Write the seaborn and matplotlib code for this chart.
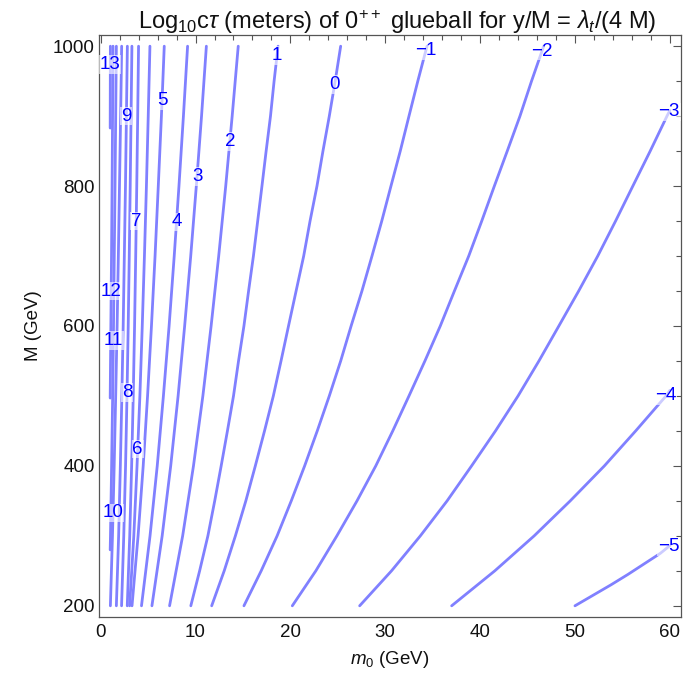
import numpy as np
import pandas as pd
import matplotlib
matplotlib.use("Agg")
import matplotlib.pyplot as plt
import seaborn as sns
from matplotlib.ticker import MultipleLocator

# ---------------- data ----------------
M_coarse = [200, 300, 400, 500, 600, 700, 800, 900, 1000]
M_fine = [200, 250, 300, 350, 400, 450, 500, 550, 600, 650, 700, 750, 800,
          850, 900, 950, 1000]

lvl_n5_m0 = [50.0, 51.9, 53.8, 55.6, 57.3, 59.0, 60.0]
lvl_n5_M = [200, 215, 230, 245, 260, 275, 286]
lvl_n4_m0 = [37.0, 41.55, 45.7, 49.5, 53.1, 56.4, 59.6, 60.0]
lvl_n4_M = [200, 250, 300, 350, 400, 450, 500, 508]
lvl_n3_m0 = [27.3, 30.66, 33.7, 36.52, 39.1, 41.62, 44.0, 46.2, 48.3, 50.39,
             52.4, 54.28, 56.1, 57.93, 59.7, 60.0]
lvl_n3_M = [200, 250, 300, 350, 400, 450, 500, 550, 600, 650, 700, 750, 800,
            850, 900, 908]
lvl_n2_m0 = [20.2, 22.68, 24.9, 27.02, 29.0, 30.79, 32.5, 34.18, 35.8, 37.29,
             38.8, 40.17, 41.5, 42.86, 44.2, 45.42, 46.7]
lvl_n1_m0 = [15.1, 16.92, 18.6, 20.09, 21.5, 22.83, 24.1, 25.3, 26.4, 27.54,
             28.6, 29.63, 30.6, 31.58, 32.5, 33.43, 34.4]
lvl_0_m0 = [11.7, 13.02, 14.2, 15.3, 16.3, 17.27, 18.2, 19.01, 19.8, 20.6,
            21.4, 22.07, 22.8, 23.43, 24.1, 24.72, 25.3]
lvl_1_m0 = [9.5, 10.43, 11.3, 12.02, 12.7, 13.36, 14.0, 14.53, 15.1, 15.59,
            16.1, 16.55, 17.0, 17.44, 17.9, 18.28, 18.7]
lvl_2_m0 = [7.26, 8.64, 9.78, 10.77, 11.64, 12.44, 13.18, 13.86, 14.5]
lvl_3_m0 = [5.4, 6.48, 7.38, 8.16, 8.85, 9.49, 10.08, 10.63, 11.14]
lvl_4_m0 = [4.3, 5.2, 5.96, 6.61, 7.21, 7.75, 8.25, 8.72, 9.16]
lvl_5_m0 = [3.3, 3.94, 4.48, 4.94, 5.35, 5.73, 6.07, 6.4, 6.7]
lvl_6_m0 = [3.05, 3.49, 3.83, 4.13, 4.38, 4.61, 4.82, 5.01, 5.19]
lvl_7_m0 = [2.8, 3.06, 3.26, 3.43, 3.57, 3.69, 3.8, 3.9, 3.99]
lvl_8_m0 = [2.2, 2.43, 2.62, 2.77, 2.9, 3.01, 3.11, 3.2, 3.29]
lvl_9_m0 = [1.65, 1.89, 2.07, 2.23, 2.37, 2.49, 2.61, 2.71, 2.81]
lvl_10_m0 = [1.02, 1.24, 1.42, 1.58, 1.73, 1.86, 1.98, 2.1, 2.21]
lvl_11_m0 = [1.0, 1.03, 1.15, 1.26, 1.35, 1.43, 1.51, 1.58, 1.65]
lvl_11_M = [280, 300, 400, 500, 600, 700, 800, 900, 1000]
lvl_12_m0 = [1.0, 1.07, 1.14, 1.2, 1.25, 1.3]
lvl_12_M = [497, 600, 700, 800, 900, 1000]
lvl_13_m0 = [1.0, 1.02]
lvl_13_M = [883, 1000]

levels = list(range(-5, 14))
contours = {
    -5: (lvl_n5_m0, lvl_n5_M), -4: (lvl_n4_m0, lvl_n4_M), -3: (lvl_n3_m0, lvl_n3_M),
    -2: (lvl_n2_m0, M_fine), -1: (lvl_n1_m0, M_fine), 0: (lvl_0_m0, M_fine),
    1: (lvl_1_m0, M_fine), 2: (lvl_2_m0, M_coarse), 3: (lvl_3_m0, M_coarse),
    4: (lvl_4_m0, M_coarse), 5: (lvl_5_m0, M_coarse), 6: (lvl_6_m0, M_coarse),
    7: (lvl_7_m0, M_coarse), 8: (lvl_8_m0, M_coarse), 9: (lvl_9_m0, M_coarse),
    10: (lvl_10_m0, M_coarse), 11: (lvl_11_m0, lvl_11_M), 12: (lvl_12_m0, lvl_12_M),
    13: (lvl_13_m0, lvl_13_M),
}

# M position of each inline contour label
label_M = {-5: 285, -4: 500, -3: 906, -2: 993, -1: 994, 0: 945, 1: 987, 2: 864,
           3: 814, 4: 749, 5: 922, 6: 424, 7: 750, 8: 505, 9: 900, 10: 333,
           11: 579, 12: 650, 13: 974}

rows = []
for lv in levels:
    xs, ys = contours[lv]
    for i, (x, y) in enumerate(zip(xs, ys)):
        rows.append({"m0": x, "M": y, "level": lv, "order": i})
df = pd.DataFrame(rows)

# ---------------- style ----------------
sns.set_style("white")
plt.rcParams["font.family"] = ["Liberation Sans", "DejaVu Sans"]
plt.rcParams["mathtext.fontset"] = "custom"
plt.rcParams["mathtext.rm"] = "Liberation Sans"
plt.rcParams["mathtext.it"] = "Liberation Sans:italic"

line_color = "#8080ff"
frame_color = "#555555"
text_color = "#111111"

fig = plt.figure(figsize=(6.88, 6.74), dpi=100)
ax = fig.add_axes([99 / 688, 1 - 617 / 674, (681 - 99) / 688, (617 - 35) / 674])

sns.lineplot(data=df, x="m0", y="M", hue="level", units="level",
             palette=[line_color] * len(levels), estimator=None, sort=False,
             linewidth=2.0, legend=False, ax=ax)

for lv in levels:
    xs, ys = contours[lv]
    yl = label_M[lv]
    xl = float(np.interp(yl, ys, xs))
    txt = str(lv).replace("-", "\u2212")
    ax.text(xl, yl, txt, color="#0000ff", fontsize=13.5, ha="center", va="center",
            bbox=dict(facecolor="white", alpha=0.6, edgecolor="none", pad=0.6),
            zorder=5)

ax.set_xlim(-0.18, 61.18)
ax.set_ylim(184, 1016)
ax.xaxis.set_major_locator(MultipleLocator(10))
ax.xaxis.set_minor_locator(MultipleLocator(2))
ax.yaxis.set_major_locator(MultipleLocator(200))
ax.yaxis.set_minor_locator(MultipleLocator(50))
ax.tick_params(which="both", direction="in", top=True, right=True,
               labeltop=False, labelright=False, color=frame_color, width=0.8,
               labelsize=13.5, labelcolor=text_color, pad=3)
ax.tick_params(axis="x", which="both", pad=5)
ax.tick_params(which="major", length=6)
ax.tick_params(which="minor", length=3.5)
for sp in ax.spines.values():
    sp.set_color(frame_color)
    sp.set_linewidth(0.9)

ax.set_xlabel(r"$m_0$ (GeV)", fontsize=13.5, color=text_color, labelpad=6)
ax.set_ylabel("M (GeV)", fontsize=13.5, color=text_color, labelpad=8)
ax.set_title(r"Log$_{10}$c$\tau$ (meters) of 0$^{++}$ glueball for y/M = $\lambda_t$/(4 M)",
             fontsize=17, color=text_color, pad=4, x=0.512)

fig.savefig("out.png", dpi=100)
